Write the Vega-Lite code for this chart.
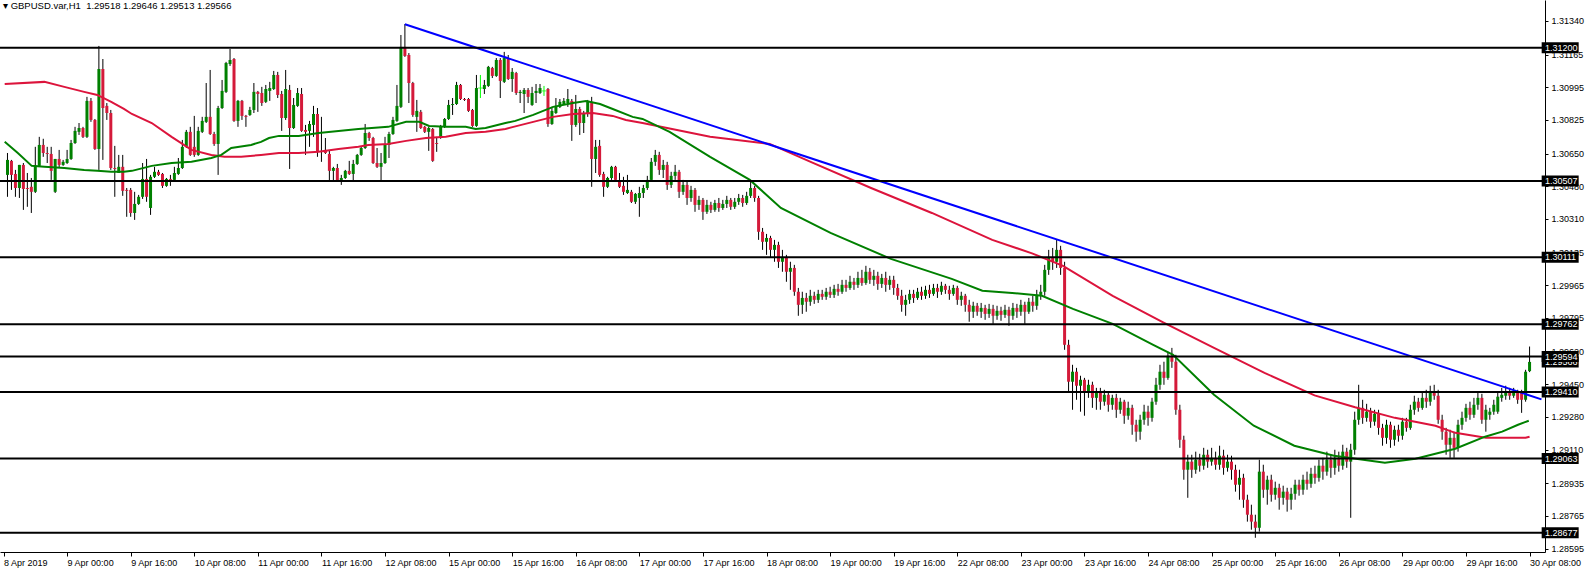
{
"$schema": "https://vega.github.io/schema/vega-lite/v6.json",
"width": 1545,
"height": 552,
"autosize": {"type": "none"},
"padding": {"left": 0, "top": 0, "right": 45, "bottom": 18},
"background": "#ffffff",
"title": {"text": "▾ GBPUSD.var,H1\u00a0\u00a01.29518 1.29646 1.29513 1.29566", "anchor": "start", "frame": "group", "orient": "top", "offset": -10, "dx": 3, "font": "Liberation Sans", "fontSize": 9.5, "fontWeight": "normal", "color": "#000000"},
"config": {
  "view": {"stroke": null},
  "axis": {"grid": false, "labelFont": "Liberation Sans", "labelFontSize": 9, "labelColor": "#000000", "domainColor": "#000000", "tickColor": "#000000", "labelFlush": false, "labelOverlap": false, "labelBound": false, "title": null}
},
"datasets": {
"candles": [
{"i":-15,"o":1.30539,"h":1.30653,"l":1.30425,"c":1.30617},
{"i":-14,"o":1.30612,"h":1.30617,"l":1.30461,"c":1.30539},
{"i":-13,"o":1.30544,"h":1.30565,"l":1.30425,"c":1.30471},
{"i":-12,"o":1.30471,"h":1.30591,"l":1.30419,"c":1.30591},
{"i":-11,"o":1.30591,"h":1.30601,"l":1.30357,"c":1.30466},
{"i":-10,"o":1.30471,"h":1.30549,"l":1.30373,"c":1.30466},
{"i":-9,"o":1.30477,"h":1.30523,"l":1.30341,"c":1.30451},
{"i":-8,"o":1.30451,"h":1.30685,"l":1.30445,"c":1.30581},
{"i":-7,"o":1.30586,"h":1.30737,"l":1.30581,"c":1.30695},
{"i":-6,"o":1.30695,"h":1.30727,"l":1.30633,"c":1.30653},
{"i":-5,"o":1.30653,"h":1.30685,"l":1.30601,"c":1.30648},
{"i":-4,"o":1.30648,"h":1.30685,"l":1.30513,"c":1.30560},
{"i":-3,"o":1.30451,"h":1.30622,"l":1.30445,"c":1.30622},
{"i":-2,"o":1.30622,"h":1.30669,"l":1.30575,"c":1.30591},
{"i":-1,"o":1.30591,"h":1.30617,"l":1.30586,"c":1.30607},
{"i":0,"o":1.30601,"h":1.30669,"l":1.30596,"c":1.30622},
{"i":1,"o":1.30622,"h":1.30721,"l":1.30617,"c":1.30705},
{"i":2,"o":1.30705,"h":1.30789,"l":1.30700,"c":1.30768},
{"i":3,"o":1.30763,"h":1.30809,"l":1.30747,"c":1.30783},
{"i":4,"o":1.30783,"h":1.30789,"l":1.30731,"c":1.30737},
{"i":5,"o":1.30737,"h":1.30945,"l":1.30731,"c":1.30924},
{"i":6,"o":1.30924,"h":1.30939,"l":1.30815,"c":1.30825},
{"i":7,"o":1.30825,"h":1.30830,"l":1.30669,"c":1.30674},
{"i":8,"o":1.30674,"h":1.31210,"l":1.30565,"c":1.31090},
{"i":9,"o":1.31090,"h":1.31142,"l":1.30617,"c":1.30887},
{"i":10,"o":1.30898,"h":1.30913,"l":1.30825,"c":1.30861},
{"i":11,"o":1.30861,"h":1.30877,"l":1.30565,"c":1.30575},
{"i":12,"o":1.30575,"h":1.30690,"l":1.30425,"c":1.30570},
{"i":13,"o":1.30549,"h":1.30643,"l":1.30549,"c":1.30581},
{"i":14,"o":1.30581,"h":1.30643,"l":1.30430,"c":1.30456},
{"i":15,"o":1.30461,"h":1.30471,"l":1.30321,"c":1.30456},
{"i":16,"o":1.30461,"h":1.30471,"l":1.30321,"c":1.30341},
{"i":17,"o":1.30341,"h":1.30451,"l":1.30305,"c":1.30388},
{"i":18,"o":1.30388,"h":1.30435,"l":1.30383,"c":1.30425},
{"i":19,"o":1.30425,"h":1.30601,"l":1.30414,"c":1.30518},
{"i":20,"o":1.30518,"h":1.30622,"l":1.30399,"c":1.30425},
{"i":21,"o":1.30367,"h":1.30539,"l":1.30331,"c":1.30529},
{"i":22,"o":1.30529,"h":1.30581,"l":1.30523,"c":1.30555},
{"i":23,"o":1.30555,"h":1.30565,"l":1.30534,"c":1.30539},
{"i":24,"o":1.30544,"h":1.30549,"l":1.30471,"c":1.30482},
{"i":25,"o":1.30482,"h":1.30523,"l":1.30477,"c":1.30518},
{"i":26,"o":1.30518,"h":1.30539,"l":1.30482,"c":1.30513},
{"i":27,"o":1.30513,"h":1.30581,"l":1.30508,"c":1.30549},
{"i":28,"o":1.30544,"h":1.30627,"l":1.30539,"c":1.30575},
{"i":29,"o":1.30575,"h":1.30721,"l":1.30570,"c":1.30685},
{"i":30,"o":1.30685,"h":1.30773,"l":1.30679,"c":1.30763},
{"i":31,"o":1.30763,"h":1.30789,"l":1.30638,"c":1.30643},
{"i":32,"o":1.30685,"h":1.30846,"l":1.30633,"c":1.30643},
{"i":33,"o":1.30643,"h":1.30789,"l":1.30638,"c":1.30768},
{"i":34,"o":1.30763,"h":1.30841,"l":1.30757,"c":1.30820},
{"i":35,"o":1.30815,"h":1.31017,"l":1.30809,"c":1.30841},
{"i":36,"o":1.30841,"h":1.31085,"l":1.30747,"c":1.30752},
{"i":37,"o":1.30752,"h":1.30763,"l":1.30690,"c":1.30700},
{"i":38,"o":1.30700,"h":1.30898,"l":1.30539,"c":1.30887},
{"i":39,"o":1.30887,"h":1.31033,"l":1.30882,"c":1.30976},
{"i":40,"o":1.30971,"h":1.31127,"l":1.30965,"c":1.31121},
{"i":41,"o":1.31116,"h":1.31194,"l":1.31106,"c":1.31137},
{"i":42,"o":1.31142,"h":1.31147,"l":1.30815,"c":1.30820},
{"i":43,"o":1.30820,"h":1.30929,"l":1.30789,"c":1.30924},
{"i":44,"o":1.30924,"h":1.30929,"l":1.30825,"c":1.30846},
{"i":45,"o":1.30846,"h":1.30851,"l":1.30789,"c":1.30841},
{"i":46,"o":1.30851,"h":1.30893,"l":1.30846,"c":1.30877},
{"i":47,"o":1.30877,"h":1.31017,"l":1.30861,"c":1.30971},
{"i":48,"o":1.30971,"h":1.30976,"l":1.30867,"c":1.30960},
{"i":49,"o":1.30965,"h":1.30997,"l":1.30898,"c":1.30913},
{"i":50,"o":1.30919,"h":1.31007,"l":1.30913,"c":1.30986},
{"i":51,"o":1.30976,"h":1.31023,"l":1.30924,"c":1.30991},
{"i":52,"o":1.30986,"h":1.31080,"l":1.30981,"c":1.31059},
{"i":53,"o":1.31059,"h":1.31075,"l":1.30939,"c":1.30955},
{"i":54,"o":1.30960,"h":1.30976,"l":1.30768,"c":1.30835},
{"i":55,"o":1.30835,"h":1.31085,"l":1.30825,"c":1.30986},
{"i":56,"o":1.30981,"h":1.31007,"l":1.30570,"c":1.30783},
{"i":57,"o":1.30783,"h":1.30939,"l":1.30778,"c":1.30903},
{"i":58,"o":1.30898,"h":1.30991,"l":1.30893,"c":1.30965},
{"i":59,"o":1.30960,"h":1.30991,"l":1.30763,"c":1.30768},
{"i":60,"o":1.30773,"h":1.30799,"l":1.30643,"c":1.30763},
{"i":61,"o":1.30768,"h":1.30820,"l":1.30685,"c":1.30804},
{"i":62,"o":1.30799,"h":1.30898,"l":1.30737,"c":1.30856},
{"i":63,"o":1.30856,"h":1.30887,"l":1.30633,"c":1.30659},
{"i":64,"o":1.30664,"h":1.30841,"l":1.30607,"c":1.30659},
{"i":65,"o":1.30669,"h":1.30731,"l":1.30648,"c":1.30653},
{"i":66,"o":1.30648,"h":1.30664,"l":1.30508,"c":1.30560},
{"i":67,"o":1.30560,"h":1.30581,"l":1.30508,"c":1.30575},
{"i":68,"o":1.30575,"h":1.30596,"l":1.30503,"c":1.30508},
{"i":69,"o":1.30508,"h":1.30539,"l":1.30487,"c":1.30523},
{"i":70,"o":1.30523,"h":1.30565,"l":1.30518,"c":1.30560},
{"i":71,"o":1.30560,"h":1.30612,"l":1.30539,"c":1.30544},
{"i":72,"o":1.30544,"h":1.30617,"l":1.30503,"c":1.30596},
{"i":73,"o":1.30596,"h":1.30648,"l":1.30591,"c":1.30643},
{"i":74,"o":1.30643,"h":1.30685,"l":1.30638,"c":1.30679},
{"i":75,"o":1.30679,"h":1.30804,"l":1.30674,"c":1.30757},
{"i":76,"o":1.30757,"h":1.30763,"l":1.30716,"c":1.30731},
{"i":77,"o":1.30731,"h":1.30737,"l":1.30596,"c":1.30601},
{"i":78,"o":1.30601,"h":1.30679,"l":1.30575,"c":1.30581},
{"i":79,"o":1.30581,"h":1.30653,"l":1.30503,"c":1.30601},
{"i":80,"o":1.30601,"h":1.30737,"l":1.30596,"c":1.30695},
{"i":81,"o":1.30695,"h":1.30763,"l":1.30627,"c":1.30752},
{"i":82,"o":1.30752,"h":1.30841,"l":1.30747,"c":1.30825},
{"i":83,"o":1.30820,"h":1.31007,"l":1.30815,"c":1.30898},
{"i":84,"o":1.30893,"h":1.31267,"l":1.30887,"c":1.31205},
{"i":85,"o":1.31205,"h":1.31324,"l":1.31153,"c":1.31158},
{"i":86,"o":1.31163,"h":1.31173,"l":1.30913,"c":1.31017},
{"i":87,"o":1.31017,"h":1.31023,"l":1.30841,"c":1.30851},
{"i":88,"o":1.30841,"h":1.30929,"l":1.30763,"c":1.30872},
{"i":89,"o":1.30867,"h":1.30877,"l":1.30778,"c":1.30783},
{"i":90,"o":1.30789,"h":1.30794,"l":1.30757,"c":1.30763},
{"i":91,"o":1.30763,"h":1.30789,"l":1.30664,"c":1.30783},
{"i":92,"o":1.30778,"h":1.30783,"l":1.30607,"c":1.30612},
{"i":93,"o":1.30705,"h":1.30737,"l":1.30659,"c":1.30700},
{"i":94,"o":1.30731,"h":1.30799,"l":1.30727,"c":1.30789},
{"i":95,"o":1.30789,"h":1.30835,"l":1.30783,"c":1.30830},
{"i":96,"o":1.30830,"h":1.30929,"l":1.30825,"c":1.30903},
{"i":97,"o":1.30903,"h":1.30939,"l":1.30851,"c":1.30908},
{"i":98,"o":1.30908,"h":1.31023,"l":1.30903,"c":1.31007},
{"i":99,"o":1.31007,"h":1.31012,"l":1.30929,"c":1.30934},
{"i":100,"o":1.30934,"h":1.30939,"l":1.30924,"c":1.30929},
{"i":101,"o":1.30934,"h":1.30939,"l":1.30867,"c":1.30872},
{"i":102,"o":1.30877,"h":1.30882,"l":1.30789,"c":1.30794},
{"i":103,"o":1.30794,"h":1.31059,"l":1.30789,"c":1.30991},
{"i":104,"o":1.30991,"h":1.31059,"l":1.30939,"c":1.30991},
{"i":105,"o":1.30986,"h":1.31033,"l":1.30960,"c":1.31007},
{"i":106,"o":1.31002,"h":1.31106,"l":1.30997,"c":1.31101},
{"i":107,"o":1.31095,"h":1.31101,"l":1.31043,"c":1.31054},
{"i":108,"o":1.31054,"h":1.31147,"l":1.31049,"c":1.31137},
{"i":109,"o":1.31137,"h":1.31147,"l":1.30939,"c":1.31028},
{"i":110,"o":1.31023,"h":1.31179,"l":1.31017,"c":1.31147},
{"i":111,"o":1.31147,"h":1.31163,"l":1.31033,"c":1.31038},
{"i":112,"o":1.31038,"h":1.31095,"l":1.30971,"c":1.31075},
{"i":113,"o":1.31069,"h":1.31075,"l":1.30955,"c":1.30965},
{"i":114,"o":1.30965,"h":1.30981,"l":1.30913,"c":1.30971},
{"i":115,"o":1.30960,"h":1.30991,"l":1.30861,"c":1.30981},
{"i":116,"o":1.30981,"h":1.30991,"l":1.30913,"c":1.30945},
{"i":117,"o":1.30903,"h":1.30997,"l":1.30898,"c":1.30965},
{"i":118,"o":1.30965,"h":1.31012,"l":1.30913,"c":1.30976},
{"i":119,"o":1.30965,"h":1.31012,"l":1.30960,"c":1.30991},
{"i":120,"o":1.30976,"h":1.31002,"l":1.30950,"c":1.30976},
{"i":121,"o":1.30986,"h":1.30991,"l":1.30789,"c":1.30804},
{"i":122,"o":1.30804,"h":1.30893,"l":1.30799,"c":1.30872},
{"i":123,"o":1.30861,"h":1.30939,"l":1.30856,"c":1.30898},
{"i":124,"o":1.30893,"h":1.30934,"l":1.30887,"c":1.30919},
{"i":125,"o":1.30908,"h":1.30939,"l":1.30903,"c":1.30924},
{"i":126,"o":1.30913,"h":1.30986,"l":1.30893,"c":1.30934},
{"i":127,"o":1.30924,"h":1.30934,"l":1.30716,"c":1.30799},
{"i":128,"o":1.30799,"h":1.30955,"l":1.30789,"c":1.30882},
{"i":129,"o":1.30882,"h":1.30893,"l":1.30747,"c":1.30809},
{"i":130,"o":1.30809,"h":1.30872,"l":1.30757,"c":1.30856},
{"i":131,"o":1.30856,"h":1.30929,"l":1.30841,"c":1.30919},
{"i":132,"o":1.30919,"h":1.30945,"l":1.30477,"c":1.30622},
{"i":133,"o":1.30622,"h":1.30721,"l":1.30549,"c":1.30685},
{"i":134,"o":1.30690,"h":1.30721,"l":1.30529,"c":1.30539},
{"i":135,"o":1.30544,"h":1.30555,"l":1.30425,"c":1.30477},
{"i":136,"o":1.30477,"h":1.30529,"l":1.30471,"c":1.30523},
{"i":137,"o":1.30523,"h":1.30586,"l":1.30513,"c":1.30581},
{"i":138,"o":1.30581,"h":1.30586,"l":1.30503,"c":1.30513},
{"i":139,"o":1.30503,"h":1.30549,"l":1.30471,"c":1.30477},
{"i":140,"o":1.30482,"h":1.30529,"l":1.30435,"c":1.30451},
{"i":141,"o":1.30445,"h":1.30539,"l":1.30440,"c":1.30461},
{"i":142,"o":1.30451,"h":1.30461,"l":1.30393,"c":1.30399},
{"i":143,"o":1.30399,"h":1.30445,"l":1.30388,"c":1.30440},
{"i":144,"o":1.30419,"h":1.30477,"l":1.30321,"c":1.30445},
{"i":145,"o":1.30445,"h":1.30487,"l":1.30419,"c":1.30471},
{"i":146,"o":1.30471,"h":1.30534,"l":1.30461,"c":1.30513},
{"i":147,"o":1.30513,"h":1.30627,"l":1.30503,"c":1.30607},
{"i":148,"o":1.30607,"h":1.30669,"l":1.30586,"c":1.30643},
{"i":149,"o":1.30643,"h":1.30659,"l":1.30539,"c":1.30565},
{"i":150,"o":1.30565,"h":1.30617,"l":1.30523,"c":1.30591},
{"i":151,"o":1.30591,"h":1.30607,"l":1.30461,"c":1.30487},
{"i":152,"o":1.30487,"h":1.30555,"l":1.30471,"c":1.30534},
{"i":153,"o":1.30534,"h":1.30591,"l":1.30513,"c":1.30555},
{"i":154,"o":1.30555,"h":1.30565,"l":1.30419,"c":1.30451},
{"i":155,"o":1.30451,"h":1.30513,"l":1.30435,"c":1.30487},
{"i":156,"o":1.30487,"h":1.30503,"l":1.30383,"c":1.30419},
{"i":157,"o":1.30419,"h":1.30482,"l":1.30399,"c":1.30461},
{"i":158,"o":1.30461,"h":1.30471,"l":1.30347,"c":1.30383},
{"i":159,"o":1.30383,"h":1.30430,"l":1.30357,"c":1.30409},
{"i":160,"o":1.30409,"h":1.30419,"l":1.30305,"c":1.30347},
{"i":161,"o":1.30347,"h":1.30409,"l":1.30336,"c":1.30383},
{"i":162,"o":1.30383,"h":1.30399,"l":1.30341,"c":1.30357},
{"i":163,"o":1.30357,"h":1.30409,"l":1.30347,"c":1.30393},
{"i":164,"o":1.30393,"h":1.30419,"l":1.30347,"c":1.30367},
{"i":165,"o":1.30367,"h":1.30409,"l":1.30357,"c":1.30388},
{"i":166,"o":1.30388,"h":1.30430,"l":1.30367,"c":1.30409},
{"i":167,"o":1.30409,"h":1.30419,"l":1.30357,"c":1.30373},
{"i":168,"o":1.30373,"h":1.30419,"l":1.30362,"c":1.30399},
{"i":169,"o":1.30399,"h":1.30440,"l":1.30383,"c":1.30419},
{"i":170,"o":1.30419,"h":1.30435,"l":1.30373,"c":1.30393},
{"i":171,"o":1.30393,"h":1.30451,"l":1.30383,"c":1.30430},
{"i":172,"o":1.30430,"h":1.30503,"l":1.30419,"c":1.30471},
{"i":173,"o":1.30471,"h":1.30482,"l":1.30399,"c":1.30419},
{"i":174,"o":1.30419,"h":1.30430,"l":1.30201,"c":1.30243},
{"i":175,"o":1.30243,"h":1.30263,"l":1.30149,"c":1.30191},
{"i":176,"o":1.30191,"h":1.30232,"l":1.30123,"c":1.30211},
{"i":177,"o":1.30211,"h":1.30222,"l":1.30107,"c":1.30149},
{"i":178,"o":1.30149,"h":1.30201,"l":1.30087,"c":1.30175},
{"i":179,"o":1.30175,"h":1.30191,"l":1.30055,"c":1.30087},
{"i":180,"o":1.30087,"h":1.30149,"l":1.30035,"c":1.30107},
{"i":181,"o":1.30107,"h":1.30123,"l":1.29983,"c":1.30035},
{"i":182,"o":1.30035,"h":1.30087,"l":1.29941,"c":1.30055},
{"i":183,"o":1.30055,"h":1.30071,"l":1.29910,"c":1.29931},
{"i":184,"o":1.29931,"h":1.29951,"l":1.29806,"c":1.29863},
{"i":185,"o":1.29863,"h":1.29931,"l":1.29816,"c":1.29899},
{"i":186,"o":1.29899,"h":1.29925,"l":1.29827,"c":1.29879},
{"i":187,"o":1.29879,"h":1.29941,"l":1.29858,"c":1.29910},
{"i":188,"o":1.29910,"h":1.29931,"l":1.29868,"c":1.29889},
{"i":189,"o":1.29889,"h":1.29941,"l":1.29873,"c":1.29920},
{"i":190,"o":1.29920,"h":1.29941,"l":1.29889,"c":1.29905},
{"i":191,"o":1.29905,"h":1.29951,"l":1.29889,"c":1.29931},
{"i":192,"o":1.29931,"h":1.29957,"l":1.29899,"c":1.29915},
{"i":193,"o":1.29915,"h":1.29967,"l":1.29899,"c":1.29946},
{"i":194,"o":1.29946,"h":1.29972,"l":1.29910,"c":1.29931},
{"i":195,"o":1.29931,"h":1.29993,"l":1.29920,"c":1.29967},
{"i":196,"o":1.29967,"h":1.29993,"l":1.29931,"c":1.29951},
{"i":197,"o":1.29951,"h":1.30014,"l":1.29941,"c":1.29983},
{"i":198,"o":1.29983,"h":1.30003,"l":1.29941,"c":1.29967},
{"i":199,"o":1.29967,"h":1.30035,"l":1.29951,"c":1.30003},
{"i":200,"o":1.30003,"h":1.30045,"l":1.29962,"c":1.29977},
{"i":201,"o":1.29977,"h":1.30066,"l":1.29967,"c":1.30035},
{"i":202,"o":1.30035,"h":1.30055,"l":1.29972,"c":1.29993},
{"i":203,"o":1.29993,"h":1.30045,"l":1.29962,"c":1.30014},
{"i":204,"o":1.30014,"h":1.30035,"l":1.29941,"c":1.29972},
{"i":205,"o":1.29972,"h":1.30024,"l":1.29951,"c":1.30003},
{"i":206,"o":1.30003,"h":1.30035,"l":1.29931,"c":1.29967},
{"i":207,"o":1.29967,"h":1.30014,"l":1.29941,"c":1.29993},
{"i":208,"o":1.29993,"h":1.30014,"l":1.29915,"c":1.29951},
{"i":209,"o":1.29951,"h":1.29972,"l":1.29889,"c":1.29910},
{"i":210,"o":1.29910,"h":1.29941,"l":1.29827,"c":1.29863},
{"i":211,"o":1.29863,"h":1.29915,"l":1.29806,"c":1.29889},
{"i":212,"o":1.29889,"h":1.29941,"l":1.29868,"c":1.29920},
{"i":213,"o":1.29920,"h":1.29941,"l":1.29873,"c":1.29899},
{"i":214,"o":1.29899,"h":1.29951,"l":1.29889,"c":1.29931},
{"i":215,"o":1.29931,"h":1.29957,"l":1.29889,"c":1.29910},
{"i":216,"o":1.29910,"h":1.29962,"l":1.29894,"c":1.29941},
{"i":217,"o":1.29941,"h":1.29967,"l":1.29899,"c":1.29920},
{"i":218,"o":1.29920,"h":1.29972,"l":1.29910,"c":1.29951},
{"i":219,"o":1.29951,"h":1.29972,"l":1.29899,"c":1.29931},
{"i":220,"o":1.29931,"h":1.29983,"l":1.29915,"c":1.29962},
{"i":221,"o":1.29962,"h":1.29972,"l":1.29920,"c":1.29941},
{"i":222,"o":1.29941,"h":1.29962,"l":1.29889,"c":1.29920},
{"i":223,"o":1.29920,"h":1.29967,"l":1.29910,"c":1.29951},
{"i":224,"o":1.29951,"h":1.29962,"l":1.29863,"c":1.29889},
{"i":225,"o":1.29889,"h":1.29931,"l":1.29858,"c":1.29910},
{"i":226,"o":1.29910,"h":1.29920,"l":1.29827,"c":1.29863},
{"i":227,"o":1.29863,"h":1.29889,"l":1.29775,"c":1.29827},
{"i":228,"o":1.29827,"h":1.29879,"l":1.29795,"c":1.29858},
{"i":229,"o":1.29858,"h":1.29873,"l":1.29806,"c":1.29827},
{"i":230,"o":1.29827,"h":1.29873,"l":1.29795,"c":1.29847},
{"i":231,"o":1.29847,"h":1.29863,"l":1.29785,"c":1.29816},
{"i":232,"o":1.29816,"h":1.29868,"l":1.29795,"c":1.29842},
{"i":233,"o":1.29842,"h":1.29863,"l":1.29764,"c":1.29806},
{"i":234,"o":1.29806,"h":1.29858,"l":1.29785,"c":1.29832},
{"i":235,"o":1.29832,"h":1.29853,"l":1.29780,"c":1.29811},
{"i":236,"o":1.29811,"h":1.29863,"l":1.29795,"c":1.29837},
{"i":237,"o":1.29837,"h":1.29853,"l":1.29754,"c":1.29806},
{"i":238,"o":1.29806,"h":1.29873,"l":1.29785,"c":1.29847},
{"i":239,"o":1.29847,"h":1.29868,"l":1.29795,"c":1.29827},
{"i":240,"o":1.29827,"h":1.29889,"l":1.29806,"c":1.29863},
{"i":241,"o":1.29863,"h":1.29879,"l":1.29764,"c":1.29827},
{"i":242,"o":1.29827,"h":1.29899,"l":1.29816,"c":1.29879},
{"i":243,"o":1.29879,"h":1.29910,"l":1.29827,"c":1.29858},
{"i":244,"o":1.29858,"h":1.29941,"l":1.29837,"c":1.29915},
{"i":245,"o":1.29915,"h":1.29967,"l":1.29889,"c":1.29931},
{"i":246,"o":1.29931,"h":1.30071,"l":1.29910,"c":1.30045},
{"i":247,"o":1.30045,"h":1.30149,"l":1.30019,"c":1.30107},
{"i":248,"o":1.30107,"h":1.30159,"l":1.30045,"c":1.30087},
{"i":249,"o":1.30087,"h":1.30201,"l":1.30055,"c":1.30149},
{"i":250,"o":1.30149,"h":1.30170,"l":1.30019,"c":1.30055},
{"i":251,"o":1.30055,"h":1.30087,"l":1.29629,"c":1.29655},
{"i":252,"o":1.29655,"h":1.29681,"l":1.29411,"c":1.29463},
{"i":253,"o":1.29463,"h":1.29551,"l":1.29317,"c":1.29515},
{"i":254,"o":1.29515,"h":1.29535,"l":1.29369,"c":1.29442},
{"i":255,"o":1.29442,"h":1.29494,"l":1.29307,"c":1.29473},
{"i":256,"o":1.29473,"h":1.29483,"l":1.29286,"c":1.29411},
{"i":257,"o":1.29411,"h":1.29473,"l":1.29379,"c":1.29447},
{"i":258,"o":1.29447,"h":1.29463,"l":1.29327,"c":1.29379},
{"i":259,"o":1.29379,"h":1.29431,"l":1.29317,"c":1.29411},
{"i":260,"o":1.29411,"h":1.29431,"l":1.29317,"c":1.29359},
{"i":261,"o":1.29359,"h":1.29421,"l":1.29338,"c":1.29395},
{"i":262,"o":1.29395,"h":1.29411,"l":1.29307,"c":1.29343},
{"i":263,"o":1.29343,"h":1.29395,"l":1.29317,"c":1.29379},
{"i":264,"o":1.29379,"h":1.29400,"l":1.29275,"c":1.29317},
{"i":265,"o":1.29317,"h":1.29379,"l":1.29296,"c":1.29359},
{"i":266,"o":1.29359,"h":1.29369,"l":1.29244,"c":1.29286},
{"i":267,"o":1.29286,"h":1.29359,"l":1.29265,"c":1.29327},
{"i":268,"o":1.29327,"h":1.29343,"l":1.29187,"c":1.29239},
{"i":269,"o":1.29239,"h":1.29265,"l":1.29151,"c":1.29203},
{"i":270,"o":1.29203,"h":1.29291,"l":1.29161,"c":1.29265},
{"i":271,"o":1.29265,"h":1.29343,"l":1.29239,"c":1.29307},
{"i":272,"o":1.29307,"h":1.29338,"l":1.29234,"c":1.29275},
{"i":273,"o":1.29275,"h":1.29379,"l":1.29255,"c":1.29359},
{"i":274,"o":1.29359,"h":1.29483,"l":1.29343,"c":1.29447},
{"i":275,"o":1.29447,"h":1.29551,"l":1.29421,"c":1.29515},
{"i":276,"o":1.29515,"h":1.29567,"l":1.29447,"c":1.29483},
{"i":277,"o":1.29483,"h":1.29619,"l":1.29473,"c":1.29598},
{"i":278,"o":1.29598,"h":1.29639,"l":1.29535,"c":1.29567},
{"i":279,"o":1.29567,"h":1.29603,"l":1.29291,"c":1.29317},
{"i":280,"o":1.29317,"h":1.29343,"l":1.29119,"c":1.29161},
{"i":281,"o":1.29161,"h":1.29182,"l":1.28953,"c":1.29005},
{"i":282,"o":1.29005,"h":1.29083,"l":1.28859,"c":1.29047},
{"i":283,"o":1.29047,"h":1.29083,"l":1.28963,"c":1.29005},
{"i":284,"o":1.29005,"h":1.29099,"l":1.28984,"c":1.29057},
{"i":285,"o":1.29057,"h":1.29088,"l":1.28995,"c":1.29026},
{"i":286,"o":1.29026,"h":1.29119,"l":1.29005,"c":1.29083},
{"i":287,"o":1.29083,"h":1.29109,"l":1.29015,"c":1.29047},
{"i":288,"o":1.29047,"h":1.29119,"l":1.29026,"c":1.29067},
{"i":289,"o":1.29067,"h":1.29099,"l":1.29005,"c":1.29031},
{"i":290,"o":1.29031,"h":1.29130,"l":1.29005,"c":1.29078},
{"i":291,"o":1.29078,"h":1.29109,"l":1.28979,"c":1.29015},
{"i":292,"o":1.29015,"h":1.29083,"l":1.28995,"c":1.29047},
{"i":293,"o":1.29047,"h":1.29078,"l":1.28953,"c":1.29005},
{"i":294,"o":1.29005,"h":1.29031,"l":1.28891,"c":1.28927},
{"i":295,"o":1.28927,"h":1.29005,"l":1.28849,"c":1.28963},
{"i":296,"o":1.28963,"h":1.28984,"l":1.28807,"c":1.28849},
{"i":297,"o":1.28849,"h":1.28875,"l":1.28735,"c":1.28771},
{"i":298,"o":1.28771,"h":1.28823,"l":1.28693,"c":1.28735},
{"i":299,"o":1.28735,"h":1.28771,"l":1.28651,"c":1.28703},
{"i":300,"o":1.28703,"h":1.29057,"l":1.28683,"c":1.28995},
{"i":301,"o":1.28995,"h":1.29031,"l":1.28859,"c":1.28901},
{"i":302,"o":1.28901,"h":1.28974,"l":1.28823,"c":1.28953},
{"i":303,"o":1.28953,"h":1.28979,"l":1.28839,"c":1.28875},
{"i":304,"o":1.28875,"h":1.28943,"l":1.28849,"c":1.28911},
{"i":305,"o":1.28911,"h":1.28932,"l":1.28797,"c":1.28859},
{"i":306,"o":1.28859,"h":1.28922,"l":1.28823,"c":1.28891},
{"i":307,"o":1.28891,"h":1.28911,"l":1.28787,"c":1.28849},
{"i":308,"o":1.28849,"h":1.28911,"l":1.28797,"c":1.28880},
{"i":309,"o":1.28880,"h":1.28953,"l":1.28849,"c":1.28927},
{"i":310,"o":1.28927,"h":1.28953,"l":1.28870,"c":1.28901},
{"i":311,"o":1.28901,"h":1.28979,"l":1.28875,"c":1.28953},
{"i":312,"o":1.28953,"h":1.28995,"l":1.28901,"c":1.28932},
{"i":313,"o":1.28932,"h":1.29015,"l":1.28911,"c":1.28984},
{"i":314,"o":1.28984,"h":1.29026,"l":1.28932,"c":1.28963},
{"i":315,"o":1.28963,"h":1.29057,"l":1.28943,"c":1.29026},
{"i":316,"o":1.29026,"h":1.29067,"l":1.28953,"c":1.28995},
{"i":317,"o":1.28995,"h":1.29099,"l":1.28974,"c":1.29057},
{"i":318,"o":1.29057,"h":1.29083,"l":1.28963,"c":1.29015},
{"i":319,"o":1.29015,"h":1.29109,"l":1.28979,"c":1.29067},
{"i":320,"o":1.29067,"h":1.29099,"l":1.28995,"c":1.29026},
{"i":321,"o":1.29026,"h":1.29135,"l":1.29005,"c":1.29099},
{"i":322,"o":1.29099,"h":1.29119,"l":1.29015,"c":1.29047},
{"i":323,"o":1.29047,"h":1.29140,"l":1.28755,"c":1.29109},
{"i":324,"o":1.29109,"h":1.29307,"l":1.29083,"c":1.29265},
{"i":325,"o":1.29265,"h":1.29447,"l":1.29239,"c":1.29327},
{"i":326,"o":1.29327,"h":1.29369,"l":1.29244,"c":1.29275},
{"i":327,"o":1.29275,"h":1.29348,"l":1.29255,"c":1.29307},
{"i":328,"o":1.29307,"h":1.29327,"l":1.29223,"c":1.29255},
{"i":329,"o":1.29255,"h":1.29317,"l":1.29234,"c":1.29296},
{"i":330,"o":1.29296,"h":1.29317,"l":1.29187,"c":1.29223},
{"i":331,"o":1.29223,"h":1.29244,"l":1.29130,"c":1.29171},
{"i":332,"o":1.29171,"h":1.29265,"l":1.29140,"c":1.29239},
{"i":333,"o":1.29239,"h":1.29255,"l":1.29119,"c":1.29161},
{"i":334,"o":1.29161,"h":1.29234,"l":1.29130,"c":1.29213},
{"i":335,"o":1.29213,"h":1.29239,"l":1.29151,"c":1.29182},
{"i":336,"o":1.29182,"h":1.29275,"l":1.29161,"c":1.29255},
{"i":337,"o":1.29255,"h":1.29275,"l":1.29203,"c":1.29223},
{"i":338,"o":1.29223,"h":1.29343,"l":1.29213,"c":1.29317},
{"i":339,"o":1.29317,"h":1.29390,"l":1.29291,"c":1.29359},
{"i":340,"o":1.29359,"h":1.29379,"l":1.29307,"c":1.29327},
{"i":341,"o":1.29327,"h":1.29411,"l":1.29317,"c":1.29379},
{"i":342,"o":1.29379,"h":1.29421,"l":1.29327,"c":1.29359},
{"i":343,"o":1.29359,"h":1.29442,"l":1.29338,"c":1.29411},
{"i":344,"o":1.29411,"h":1.29447,"l":1.29369,"c":1.29390},
{"i":345,"o":1.29390,"h":1.29421,"l":1.29244,"c":1.29265},
{"i":346,"o":1.29265,"h":1.29291,"l":1.29161,"c":1.29203},
{"i":347,"o":1.29203,"h":1.29223,"l":1.29083,"c":1.29135},
{"i":348,"o":1.29135,"h":1.29213,"l":1.29067,"c":1.29171},
{"i":349,"o":1.29171,"h":1.29203,"l":1.29067,"c":1.29119},
{"i":350,"o":1.29119,"h":1.29265,"l":1.29099,"c":1.29239},
{"i":351,"o":1.29239,"h":1.29307,"l":1.29213,"c":1.29275},
{"i":352,"o":1.29275,"h":1.29348,"l":1.29255,"c":1.29327},
{"i":353,"o":1.29327,"h":1.29359,"l":1.29265,"c":1.29291},
{"i":354,"o":1.29291,"h":1.29379,"l":1.29275,"c":1.29343},
{"i":355,"o":1.29343,"h":1.29411,"l":1.29317,"c":1.29379},
{"i":356,"o":1.29379,"h":1.29400,"l":1.29244,"c":1.29265},
{"i":357,"o":1.29265,"h":1.29343,"l":1.29203,"c":1.29317},
{"i":358,"o":1.29291,"h":1.29327,"l":1.29265,"c":1.29307},
{"i":359,"o":1.29307,"h":1.29369,"l":1.29291,"c":1.29343},
{"i":360,"o":1.29307,"h":1.29411,"l":1.29296,"c":1.29385},
{"i":361,"o":1.29379,"h":1.29431,"l":1.29359,"c":1.29395},
{"i":362,"o":1.29390,"h":1.29442,"l":1.29369,"c":1.29411},
{"i":363,"o":1.29411,"h":1.29431,"l":1.29369,"c":1.29390},
{"i":364,"o":1.29390,"h":1.29431,"l":1.29379,"c":1.29405},
{"i":365,"o":1.29405,"h":1.29421,"l":1.29348,"c":1.29369},
{"i":366,"o":1.29411,"h":1.29421,"l":1.29301,"c":1.29369},
{"i":367,"o":1.29369,"h":1.29525,"l":1.29359,"c":1.29515},
{"i":368,"o":1.29518,"h":1.29646,"l":1.29513,"c":1.29566}
],
"redma": [
{"i":-15.7,"p":1.31012},{"i":-5.7,"p":1.31023},{"i":-0.7,"p":1.30997},{"i":4.3,"p":1.30971},{"i":7.6,"p":1.30955},{"i":11.1,"p":1.30919},{"i":14.3,"p":1.30882},{"i":16.3,"p":1.30856},{"i":21.3,"p":1.30809},{"i":26.3,"p":1.30737},{"i":31.3,"p":1.30669},{"i":36.3,"p":1.30643},{"i":39.6,"p":1.30633},{"i":43.8,"p":1.30633},{"i":48.8,"p":1.30643},{"i":53.3,"p":1.30653},{"i":58.3,"p":1.30653},{"i":63.3,"p":1.30659},{"i":68.3,"p":1.30674},{"i":73.3,"p":1.30685},{"i":75.8,"p":1.30695},{"i":80.8,"p":1.30700},{"i":85.3,"p":1.30716},{"i":90.3,"p":1.30731},{"i":95.3,"p":1.30737},{"i":100.3,"p":1.30757},{"i":105.3,"p":1.30763},{"i":110.3,"p":1.30778},{"i":112.3,"p":1.30789},{"i":117.3,"p":1.30815},{"i":122.3,"p":1.30841},{"i":127.3,"p":1.30856},{"i":132.3,"p":1.30861},{"i":137.3,"p":1.30846},{"i":140.6,"p":1.30825},{"i":144.8,"p":1.30809},{"i":161.8,"p":1.30737},{"i":176.8,"p":1.30700},{"i":187.1,"p":1.30607},{"i":202.3,"p":1.30471},{"i":217.6,"p":1.30341},{"i":232.8,"p":1.30201},{"i":242.8,"p":1.30131},{"i":250.6,"p":1.30066},{"i":263.1,"p":1.29910},{"i":275.8,"p":1.29772},{"i":288.6,"p":1.29639},{"i":301.3,"p":1.29509},{"i":313.9,"p":1.29392},{"i":324.1,"p":1.29330},{"i":334.1,"p":1.29275},{"i":344.3,"p":1.29234},{"i":349.3,"p":1.29197},{"i":357,"p":1.29171},{"i":367,"p":1.29171},{"i":368,"p":1.29177}
],
"greenma": [
{"i":-15.7,"p":1.30711},{"i":-12.4,"p":1.30653},{"i":-8.9,"p":1.30586},{"i":-5.7,"p":1.30581},{"i":-0.7,"p":1.30575},{"i":4.3,"p":1.30565},{"i":7.6,"p":1.30560},{"i":11.1,"p":1.30555},{"i":14.3,"p":1.30555},{"i":16.3,"p":1.30560},{"i":21.3,"p":1.30586},{"i":26.3,"p":1.30601},{"i":31.3,"p":1.30607},{"i":36.3,"p":1.30627},{"i":38.8,"p":1.30643},{"i":41.3,"p":1.30679},{"i":46.3,"p":1.30695},{"i":48.8,"p":1.30711},{"i":50.8,"p":1.30731},{"i":53.3,"p":1.30742},{"i":58.3,"p":1.30742},{"i":63.3,"p":1.30757},{"i":68.3,"p":1.30768},{"i":73.3,"p":1.30778},{"i":80.8,"p":1.30789},{"i":85.3,"p":1.30815},{"i":88.6,"p":1.30815},{"i":91.1,"p":1.30794},{"i":95.3,"p":1.30789},{"i":100.3,"p":1.30789},{"i":102.8,"p":1.30778},{"i":105.3,"p":1.30783},{"i":110.3,"p":1.30809},{"i":112.8,"p":1.30820},{"i":117.3,"p":1.30851},{"i":122.3,"p":1.30893},{"i":127.3,"p":1.30913},{"i":130.6,"p":1.30924},{"i":134.1,"p":1.30908},{"i":137.3,"p":1.30882},{"i":142.3,"p":1.30841},{"i":144.8,"p":1.30830},{"i":151.6,"p":1.30763},{"i":161.8,"p":1.30633},{"i":171.8,"p":1.30513},{"i":179.6,"p":1.30367},{"i":192.1,"p":1.30237},{"i":207.3,"p":1.30102},{"i":222.6,"p":1.29998},{"i":230.3,"p":1.29936},{"i":237.8,"p":1.29925},{"i":245.3,"p":1.29910},{"i":253.1,"p":1.29842},{"i":263.1,"p":1.29764},{"i":273.3,"p":1.29655},{"i":278.3,"p":1.29603},{"i":288.6,"p":1.29395},{"i":298.6,"p":1.29234},{"i":308.8,"p":1.29130},{"i":318.8,"p":1.29078},{"i":331.6,"p":1.29041},{"i":339.3,"p":1.29062},{"i":349.3,"p":1.29114},{"i":356.8,"p":1.29177},{"i":361.1,"p":1.29203},{"i":365.1,"p":1.29239},{"i":367.8,"p":1.29260}
],
"trend": [{"i":85,"p":1.31323},{"i":371,"p":1.29371}],
"levels": [{"p":1.31200,"t":"1.31200"},{"p":1.30507,"t":"1.30507"},{"p":1.30111,"t":"1.30111"},{"p":1.29762,"t":"1.29762"},{"p":1.29594,"t":"1.29594"},{"p":1.29410,"t":"1.29410"},{"p":1.29063,"t":"1.29063"},{"p":1.28677,"t":"1.28677"}],
"bid": [{"p":1.29566,"t":"1.29566"}]
},
"encoding": {
  "x": {"type": "quantitative", "scale": {"domain": [-15.625, 370.625], "nice": false, "zero": false},
        "axis": {"orient": "bottom", "values": [-16,0,16,32,48,64,80,96,112,128,144,160,176,192,208,224,240,256,272,288,304,320,336,352,368],
                 "labelExpr": "['8 Apr 2019','9 Apr 00:00','9 Apr 16:00','10 Apr 08:00','11 Apr 00:00','11 Apr 16:00','12 Apr 08:00','15 Apr 00:00','15 Apr 16:00','16 Apr 08:00','17 Apr 00:00','17 Apr 16:00','18 Apr 08:00','19 Apr 00:00','19 Apr 16:00','22 Apr 08:00','23 Apr 00:00','23 Apr 16:00','24 Apr 08:00','25 Apr 00:00','25 Apr 16:00','26 Apr 08:00','29 Apr 00:00','29 Apr 16:00','30 Apr 08:00'][(datum.value+16)/16]",
                 "labelAlign": "left", "labelDx": -4, "labelPadding": 2, "tickSize": 4, "title": null}},
  "y": {"type": "quantitative", "scale": {"domain": [1.28577, 1.31449], "nice": false, "zero": false},
        "axis": {"orient": "right", "values": [1.3134,1.31165,1.30995,1.30825,1.3065,1.3048,1.3031,1.30135,1.29965,1.29795,1.2962,1.2945,1.2928,1.2911,1.28935,1.28765,1.28595],
                 "format": ".5f", "tickSize": 3, "labelPadding": 3, "title": null}}
},
"layer": [
{
  "data": {"name": "candles"},
  "mark": {"type": "rule", "strokeWidth": 1},
  "encoding": {
    "x": {"field": "i"},
    "y": {"field": "h"},
    "y2": {"field": "l"},
    "color": {"condition": {"test": "datum.o == datum.c", "value": "#00ff00"}, "value": "#000000"}
  }
},
{
  "data": {"name": "candles"},
  "transform": [{"filter": "datum.o != datum.c"}],
  "mark": {"type": "bar", "size": 3},
  "encoding": {
    "x": {"field": "i"},
    "y": {"field": "o"},
    "y2": {"field": "c"},
    "color": {"condition": {"test": "datum.c >= datum.o", "value": "#008000"}, "value": "#d41a3a"}
  }
},
{
  "data": {"name": "candles"},
  "transform": [{"filter": "datum.o == datum.c"}],
  "mark": {"type": "tick", "orient": "horizontal", "size": 5, "thickness": 1, "color": "#00ff00"},
  "encoding": {
    "x": {"field": "i"},
    "y": {"field": "o"}
  }
},
{
  "data": {"name": "redma"},
  "mark": {"type": "line", "color": "#dc143c", "strokeWidth": 2, "clip": true},
  "encoding": {
    "x": {"field": "i"},
    "y": {"field": "p"}
  }
},
{
  "data": {"name": "greenma"},
  "mark": {"type": "line", "color": "#008000", "strokeWidth": 2, "clip": true},
  "encoding": {
    "x": {"field": "i"},
    "y": {"field": "p"}
  }
},
{
  "data": {"name": "trend"},
  "mark": {"type": "line", "color": "#0000ff", "strokeWidth": 2, "clip": true},
  "encoding": {
    "x": {"field": "i"},
    "y": {"field": "p"}
  }
},
{
  "data": {"name": "levels"},
  "mark": {"type": "rule", "color": "#000000", "strokeWidth": 2},
  "encoding": {
    "x": null,
    "y": {"field": "p"}
  }
},
{
  "data": {"name": "bid"},
  "mark": {"type": "tick", "orient": "horizontal", "size": 37, "thickness": 11, "color": "#000000", "opacity": 1},
  "encoding": {
    "x": {"datum": 375.7},
    "y": {"field": "p"}
  }
},
{
  "data": {"name": "bid"},
  "mark": {"type": "text", "align": "left", "baseline": "middle", "dx": 3, "color": "#ffffff", "font": "Liberation Sans", "fontSize": 9},
  "encoding": {
    "x": {"datum": 371.1},
    "y": {"field": "p"},
    "text": {"field": "t"}
  }
},
{
  "data": {"name": "levels"},
  "mark": {"type": "tick", "orient": "horizontal", "size": 37, "thickness": 11, "color": "#000000", "opacity": 1},
  "encoding": {
    "x": {"datum": 375.7},
    "y": {"field": "p"}
  }
},
{
  "data": {"name": "levels"},
  "mark": {"type": "text", "align": "left", "baseline": "middle", "dx": 3, "color": "#ffffff", "font": "Liberation Sans", "fontSize": 9},
  "encoding": {
    "x": {"datum": 371.1},
    "y": {"field": "p"},
    "text": {"field": "t"}
  }
}
]
}
